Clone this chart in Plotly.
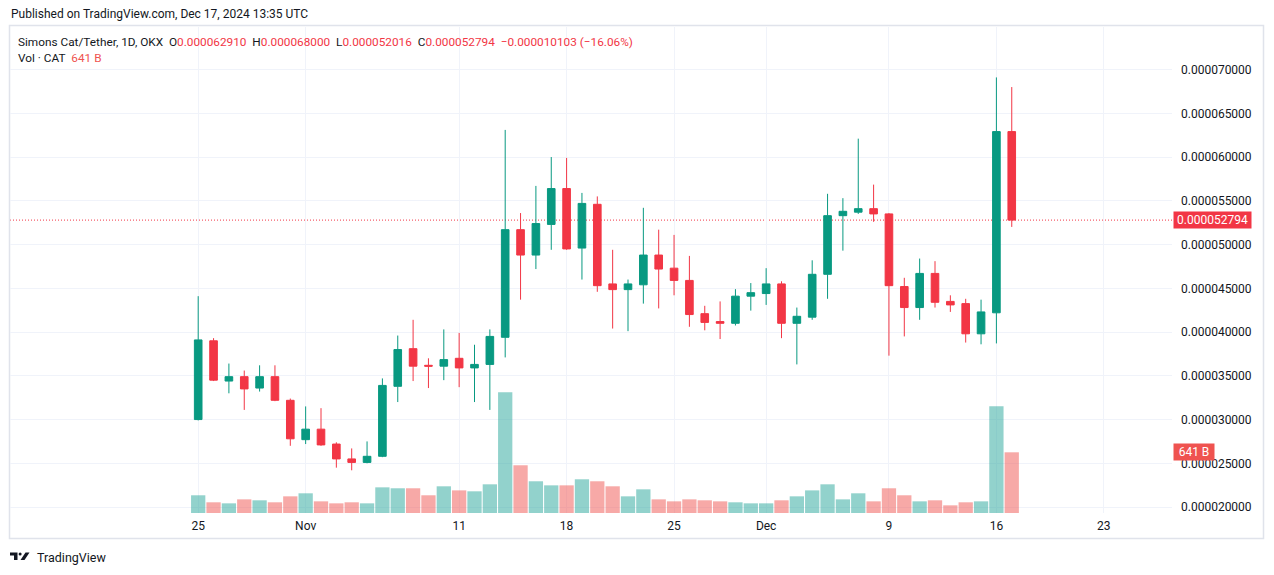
import plotly.graph_objects as go
import pandas as pd

# ---------------- data (prices in 1e-6 USDT, volume in billions CAT) ----------------
start_date = "2024-10-25"
end_date = "2024-12-17"

open_u = [30.0, 39.0, 34.4, 34.9, 33.6, 34.9, 32.2,
          27.7, 28.9, 27.2, 25.5, 25.1, 25.8, 33.8, 38.1, 36.2, 36.1, 37.0, 35.9, 36.3,
          39.4, 51.7, 48.8, 52.3, 56.4, 49.6, 54.6, 45.5, 44.85, 45.4, 48.8, 47.3, 45.9,
          42.1, 41.2, 41.0, 44.1,
          44.4, 45.5, 41.0, 41.7, 46.6, 53.3, 53.7, 54.1, 53.5, 45.2, 42.8, 46.7, 43.5,
          43.25, 39.8, 42.2, 62.910]
high_u = [44.1, 39.3, 36.4, 35.6, 36.2, 36.2, 32.4,
          31.5, 31.3, 27.4, 26.7, 27.5, 34.7, 39.6, 41.4, 37.0, 40.3, 39.9, 38.55, 40.3,
          63.1, 53.6, 56.7, 60.0, 59.9, 55.9, 55.5, 49.4, 46.0, 54.2, 51.7, 51.1, 48.7,
          43.0, 43.5, 44.9, 45.6,
          47.3, 45.8, 42.8, 48.2, 55.8, 55.3, 62.1, 56.85, 53.6, 46.2, 48.4, 48.1, 44.2,
          43.8, 43.7, 69.1, 68.000]
low_u = [29.9, 34.4, 33.0, 31.1, 33.2, 32.1, 27.0,
         27.2, 27.0, 24.5, 24.2, 25.0, 25.7, 32.0, 34.4, 33.6, 34.5, 33.7, 32.0, 31.1,
         37.1, 43.7, 47.2, 49.4, 49.4, 46.0, 44.6, 40.4, 40.1, 43.25, 42.7, 44.2, 40.6,
         40.2, 39.2, 40.75, 42.45,
         43.1, 39.3, 36.3, 41.4, 43.8, 49.3, 53.5, 52.6, 37.3, 39.5, 41.4, 42.8, 42.3,
         38.8, 38.6, 38.7, 52.016]
close_u = [39.1, 34.5, 34.9, 33.5, 34.9, 32.2, 27.8,
           28.9, 27.1, 25.5, 25.1, 25.8, 33.9, 38.0, 36.1, 36.1, 36.85, 35.9, 36.3, 39.5,
           51.7, 48.8, 52.4, 56.4, 49.5, 54.7, 45.3, 44.85, 45.5, 48.8, 47.2, 45.9, 42.0,
           41.1, 41.0, 44.1, 44.5,
           45.5, 41.0, 41.8, 46.6, 53.3, 53.8, 54.1, 53.5, 45.3, 42.8, 46.7, 43.4, 43.1,
           39.8, 42.3, 62.910, 52.794]
volume_b = [187, 113, 102, 144, 134, 113, 176,
            208, 123, 102, 113, 102, 271, 261, 261, 187, 282, 239, 229, 303,
            1275, 504, 335, 292, 292, 356, 335, 282, 176, 250, 144, 123, 144,
            134, 123, 113, 102,
            102, 134, 176, 239, 303, 144, 208, 123, 261, 187, 123, 134, 81,
            113, 123, 1127, 641]

x_tick_dates = ["2024-10-25", "2024-11-01", "2024-11-11", "2024-11-18", "2024-11-25",
                "2024-12-01", "2024-12-09", "2024-12-16", "2024-12-23"]
x_tick_text = ["25", "Nov", "11", "18", "25", "Dec", "9", "16", "23"]
y_tick_u = [20, 25, 30, 35, 40, 45, 50, 55, 60, 65, 70]

header_title = "Published on TradingView.com, Dec 17, 2024 13:35 UTC"
symbol_text = "Simons Cat/Tether, 1D, OKX"
ohlc_labels = ["O", "H", "L", "C"]
ohlc_values = ["0.000062910", "0.000068000", "0.000052016", "0.000052794"]
change_text = "\u22120.000010103 (\u221216.06%)"
vol_text = "Vol \u00b7 CAT"
vol_value_text = "641 B"
last_price_text = "0.000052794"

# ---------------- derived ----------------
U = 1e-6
dates = pd.date_range(start_date, end_date, freq="D")
o = [v * U for v in open_u]
h = [v * U for v in high_u]
l = [v * U for v in low_u]
c = [v * U for v in close_u]
vol = [v * 1e9 for v in volume_b]

UP = "#089981"
DOWN = "#F23645"
VUP = "rgba(38,166,154,0.5)"
VDOWN = "rgba(239,83,80,0.5)"
TXT = "#131722"
GRID = "#f0f3fa"
FONT = "Roboto"

W, H = 1274, 575
ML, MR, MT, MB = 10, 102, 27, 62
PW, PH = W - ML - MR, H - MT - MB


def px2x(px):
    return (px - ML) / PW


def px2y(py):
    return (H - MB - py) / PH


# x range: first candle centre at pixel 198.2, 15.35 px per day
px_per_day = 15.35
first_px = 198.2
first = pd.Timestamp(start_date)
x0 = first - pd.Timedelta(days=(first_px - ML) / px_per_day)
x1 = first + pd.Timedelta(days=(ML + PW - first_px) / px_per_day)

# y range: 45e-6 at pixel 288.3, 8.75 px per 1e-6
ppu = 8.75
y_lo = (45 - (H - MB - 288.3) / ppu) * U
y_hi = (45 + (288.3 - MT) / ppu) * U

vol_colors = [VUP if cc >= oo else VDOWN for oo, cc in zip(o, c)]
vol_max_range = vol[-1] * PH / 60.7

fig = go.Figure()
fig.add_trace(go.Candlestick(
    x=dates, open=o, high=h, low=l, close=c,
    increasing=dict(line=dict(color=UP, width=1), fillcolor=UP),
    decreasing=dict(line=dict(color=DOWN, width=1), fillcolor=DOWN),
    whiskerwidth=0, showlegend=False, hoverinfo="skip", yaxis="y"))
fig.add_trace(go.Bar(
    x=dates, y=vol, marker=dict(color=vol_colors, line=dict(width=0)),
    showlegend=False, hoverinfo="skip", yaxis="y2"))

shapes = []
# last price dotted line
shapes.append(dict(type="line", xref="paper", yref="y", x0=0, x1=1,
                   y0=c[-1], y1=c[-1], line=dict(color=DOWN, width=1, dash="1px,2px"),
                   layer="below"))
# outer frame
shapes.append(dict(type="rect", xref="paper", yref="paper",
                   x0=px2x(9.5), x1=px2x(1263.5), y0=px2y(538.5), y1=px2y(25.5),
                   line=dict(color="#e0e3eb", width=1.5), fillcolor="rgba(0,0,0,0)",
                   layer="below"))
# TradingView logo (approximation)
shapes.append(dict(type="path", xref="paper", yref="paper",
                   path=(f"M {px2x(10)},{px2y(552.5)} L {px2x(17.5)},{px2y(552.5)} "
                         f"L {px2x(17.5)},{px2y(560)} L {px2x(14)},{px2y(560)} "
                         f"L {px2x(14)},{px2y(555.5)} L {px2x(10)},{px2y(555.5)} Z"),
                   fillcolor=TXT, line=dict(width=0)))
shapes.append(dict(type="circle", xref="paper", yref="paper",
                   x0=px2x(18.6), x1=px2x(21.6), y0=px2y(555.6), y1=px2y(552.6),
                   fillcolor=TXT, line=dict(width=0)))
shapes.append(dict(type="path", xref="paper", yref="paper",
                   path=(f"M {px2x(25.5)},{px2y(552.5)} L {px2x(29.5)},{px2y(552.5)} "
                         f"L {px2x(24.5)},{px2y(560)} L {px2x(20.5)},{px2y(560)} Z"),
                   fillcolor=TXT, line=dict(width=0)))

sp = "\u00a0"
red_span = "<span style='color:" + DOWN + "'>{}</span>"
header2 = symbol_text + sp * 2 + (sp * 2).join(
    lab + red_span.format(val) for lab, val in zip(ohlc_labels, ohlc_values)
) + sp * 2 + red_span.format(change_text)
header3 = vol_text + sp * 2 + "<span style='color:#ef5350'>" + vol_value_text + "</span>"

annotations = [
    dict(text=header_title, xref="paper", yref="paper", x=px2x(9), y=px2y(14),
         xanchor="left", yanchor="middle", showarrow=False,
         font=dict(family=FONT, size=12, color=TXT)),
    dict(text=header2, xref="paper", yref="paper", x=px2x(16), y=px2y(42),
         xanchor="left", yanchor="middle", showarrow=False,
         font=dict(family=FONT, size=11.8, color=TXT)),
    dict(text=header3, xref="paper", yref="paper", x=px2x(16), y=px2y(58),
         xanchor="left", yanchor="middle", showarrow=False,
         font=dict(family=FONT, size=11.8, color=TXT)),
    dict(text=last_price_text, xref="paper", yref="y", x=px2x(1173), y=c[-1],
         xanchor="left", yanchor="middle", showarrow=False,
         bgcolor=DOWN, borderpad=2, width=73, height=12,
         font=dict(family=FONT, size=12, color="white")),
    dict(text=vol_value_text, xref="paper", yref="y2", x=px2x(1173), y=vol[-1],
         xanchor="left", yanchor="middle", showarrow=False,
         bgcolor="#ef5350", borderpad=2, width=36, height=12,
         font=dict(family=FONT, size=12, color="white")),
    dict(text="TradingView", xref="paper", yref="paper", x=px2x(35), y=px2y(557),
         xanchor="left", yanchor="middle", showarrow=False,
         font=dict(family=FONT, size=12.5, color=TXT)),
]

fig.update_layout(
    width=W, height=H,
    margin=dict(l=ML, r=MR, t=MT, b=MB, pad=0),
    paper_bgcolor="white", plot_bgcolor="white",
    font=dict(family=FONT, size=12, color=TXT),
    showlegend=False,
    bargap=0.07, boxgap=0.29,
    xaxis=dict(type="date", range=[x0, x1], rangeslider=dict(visible=False),
               tickvals=pd.to_datetime(x_tick_dates), ticktext=x_tick_text,
               showgrid=True, gridcolor=GRID, gridwidth=1, zeroline=False,
               showline=False, ticks="", ticklabelstandoff=4,
               tickfont=dict(family=FONT, size=12, color=TXT), fixedrange=True),
    yaxis=dict(side="right", range=[y_lo, y_hi],
               tickvals=[v * U for v in y_tick_u],
               ticktext=[f"{v * U:.9f}" for v in y_tick_u],
               showgrid=True, gridcolor=GRID, gridwidth=1, zeroline=False,
               showline=False, ticks="", ticklabelstandoff=8,
               tickfont=dict(family=FONT, size=12, color=TXT), fixedrange=True),
    yaxis2=dict(overlaying="y", range=[0, vol_max_range], visible=False,
                showgrid=False, zeroline=False, fixedrange=True),
    shapes=shapes, annotations=annotations,
    hovermode=False,
)

fig.write_html("out.html", config={"displayModeBar": False},
               post_script="document.body.style.margin='0';")
